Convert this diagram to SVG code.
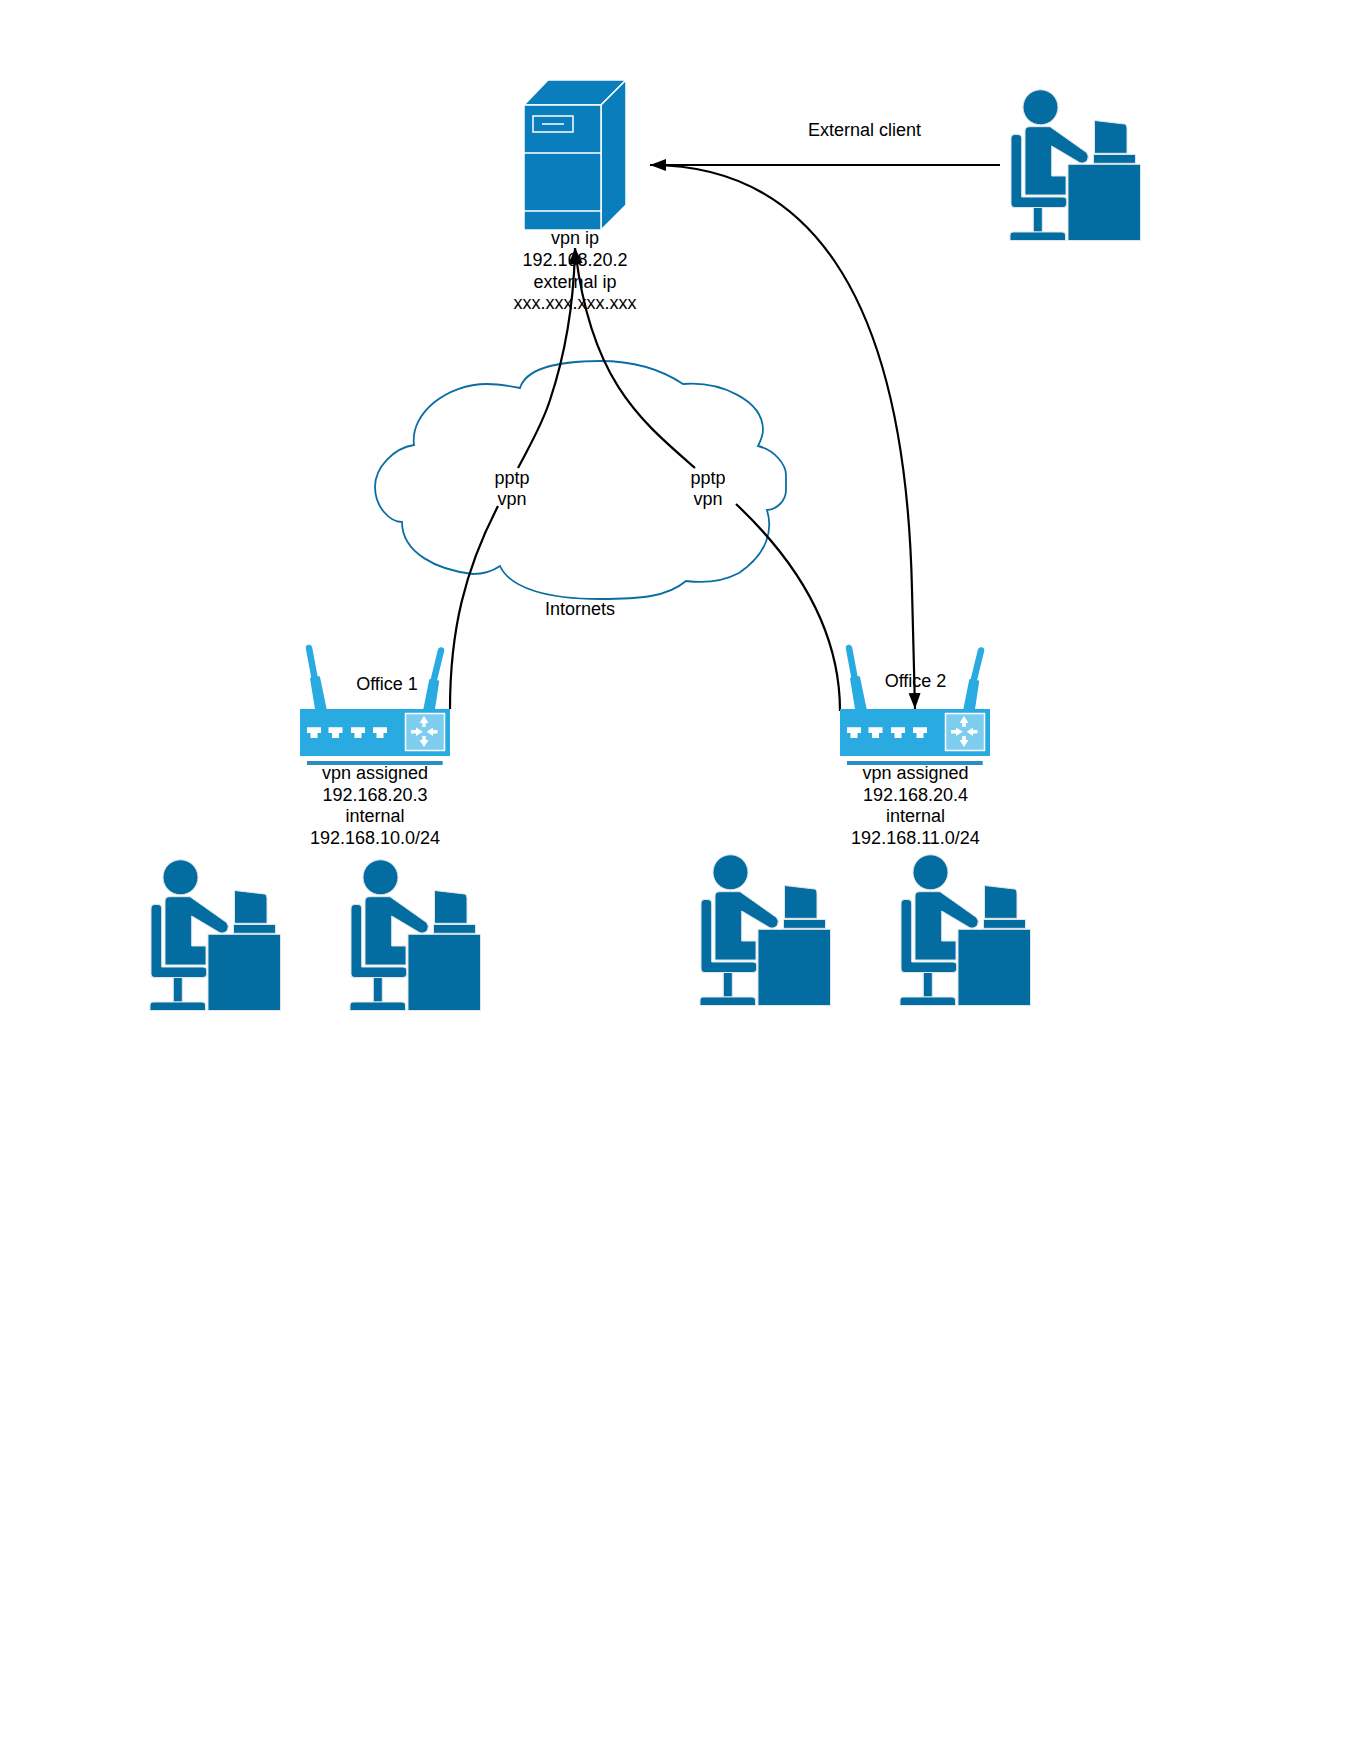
<svg xmlns="http://www.w3.org/2000/svg" width="1360" height="1760" viewBox="0 0 1360 1760">
<style>
text{font-family:"Liberation Sans",Arial,sans-serif;font-size:18px;fill:#000;text-anchor:middle}
.c{fill:none;stroke:#000;stroke-width:2.200}
.p{fill:#036ca1;stroke:#dfe6ea;stroke-width:1}
.r{fill:#29abe2}
.w{fill:#fff}
.s{fill:#0a7dbd;stroke:#fff;stroke-width:1.500}
</style>
<defs>
<marker id="a" markerUnits="userSpaceOnUse" markerWidth="18" markerHeight="14" refX="16" refY="7" orient="auto"><path d="M0,1 L16,7 L0,13 Z" fill="#000"/></marker>
<g id="person">
<circle class="p" cx="1040.500" cy="107.300" r="17.500"/>
<path class="p" d="M1025,131 Q1025,126.700 1030,126.700 H1050 L1086.500,152.500 Q1089.500,156 1087.500,160 Q1084.500,164.500 1079.500,162.500 L1051.700,146 V176 H1066 V195 H1025 Z"/>
<path class="p" d="M1011,138 Q1011,134.500 1014.500,134.500 H1018 Q1021.700,134.500 1021.700,138 V197 H1063 Q1066.700,197 1066.700,200 V204 Q1066.700,207.500 1063,207.500 H1014.500 Q1011,207.500 1011,204 Z"/>
<rect class="p" x="1033.300" y="207.500" width="9" height="24.500"/>
<path class="p" d="M1010,235 Q1010,232 1013,232 H1062 Q1065.500,232 1065.500,235 V240.500 H1010 Z"/>
<rect class="p" x="1068" y="164.300" width="72.500" height="76.200"/>
<rect class="p" x="1093.500" y="154.500" width="42" height="8.800"/>
<path class="p" d="M1094.500,120.500 L1124.500,124 Q1127,124.500 1127,128 V153.300 H1094.500 Z"/>
</g>
<g id="router">
<rect class="r" x="300" y="709" width="150" height="47"/>
<rect x="307" y="761" width="135.700" height="4" fill="#2a8fc0"/>
<path d="M309,648 L315,680" stroke="#29abe2" stroke-width="6.500" stroke-linecap="round" fill="none"/>
<path class="r" d="M310,678.300 Q311,676.500 315,676 Q320,676 320,677 L326.700,709.300 H315 Z"/>
<path d="M441,650.500 L433.300,682" stroke="#29abe2" stroke-width="6.500" stroke-linecap="round" fill="none"/>
<path class="r" d="M429.300,679.300 Q433,678.500 439.300,680.700 L435,709.300 H423.300 Z"/>
<path class="w" d="M307,727.300 H321 V733 H317.500 V738 H310.500 V733 H307 Z"/>
<path class="w" d="M328.500,727.300 H342.500 V733 H339 V738 H332 V733 H328.500 Z"/>
<path class="w" d="M351,727.300 H365 V733 H361.500 V738 H354.500 V733 H351 Z"/>
<path class="w" d="M373,727.300 H387 V733 H383.500 V738 H376.500 V733 H373 Z"/>
<rect x="405.500" y="713.500" width="39" height="37" fill="#7fcdee" stroke="#fff" stroke-width="1.500"/>
<path class="w" d="M424,716 L428.500,723 H425.800 V727 H422.200 V723 H419.500 Z"/>
<path class="w" d="M424,747 L428.500,740 H425.800 V736 H422.200 V740 H419.500 Z"/>
<path class="w" d="M422.700,731.700 L416,727.500 V730 H411 V733.400 H416 V736 Z"/>
<path class="w" d="M426.700,731.700 L433,727.500 V730 H437.500 V733.400 H433 V736 Z"/>
</g>
</defs>

<g id="internet-cloud">
<path d="M520,388 C527,365 570,361 600,361 C637,361 665,372 683,384 C720,381 763,400 763,430 C763,436 760,442 758,446 C775,450 786,465 786,475 V490 C786,502 775,510 767,510 C773,530 768,553 739,573 C722,582 702,583 686,581 C667,597 640,599 600,599 C547,599 510,588 500,566 C490,573 480,574 473,574 C437,570 402,553 402,522 C390,522 375,507 375,487 C375,467 394,448 414,445 C410,413 447,384 487,384 C500,384 520,388 520,388 Z" fill="none" stroke="#0a6ea3" stroke-width="1.800"/>
<text x="580" y="615">Intornets</text>
</g>

<g id="connectors">
<path class="c" d="M450,709 C450,630 465,570 498,506"/>
<path class="c" marker-end="url(#a)" d="M518,468 C530,445 542,425 550,400 C565,355 574,300 575,248"/>
<path class="c" d="M840,711 C840,625 790,555 736,504"/>
<path class="c" marker-end="url(#a)" d="M695,468 C640,420 590,380 575,248"/>
<path class="c" marker-end="url(#a)" d="M1000,165 H650"/>
<path class="c" marker-end="url(#a)" d="M650,165 C800,165 905,280 912,590 L915,709"/>
</g>

<g id="server">
<path class="s" d="M524,105 L548,80 H626 L601,105 Z"/>
<path class="s" d="M601,105 L626,80 V205 L601,230 Z"/>
<rect class="s" x="524" y="105" width="77" height="125"/>
<path d="M524,153 H601 M524,211 H601" stroke="#fff" stroke-width="1.500" fill="none"/>
<rect x="533" y="116" width="40" height="16" fill="none" stroke="#fff" stroke-width="1.500"/>
<path d="M542,124 H564" stroke="#fff" stroke-width="1.500"/>
<text x="575" y="244">vpn ip</text>
<text x="575" y="266">192.168.20.2</text>
<text x="575" y="288">external ip</text>
<text x="575" y="309">xxx.xxx.xxx.xxx</text>
</g>

<g id="external-client">
<use href="#person"/>
<text x="864.500" y="136">External client</text>
</g>

<g id="pptp-label-1"><text x="512" y="483.500">pptp</text><text x="512" y="505">vpn</text></g>
<g id="pptp-label-2"><text x="708" y="483.500">pptp</text><text x="708" y="505">vpn</text></g>

<g id="office-1">
<use href="#router"/>
<text x="387" y="690">Office 1</text>
<text x="375" y="779">vpn assigned</text>
<text x="375" y="801">192.168.20.3</text>
<text x="375" y="822">internal</text>
<text x="375" y="844">192.168.10.0/24</text>
</g>
<g id="office-2">
<use href="#router" transform="translate(540,0)"/>
<text x="915.500" y="687">Office 2</text>
<text x="915.500" y="779">vpn assigned</text>
<text x="915.500" y="801">192.168.20.4</text>
<text x="915.500" y="822">internal</text>
<text x="915.500" y="844">192.168.11.0/24</text>
</g>
<g id="user-1"><use href="#person" transform="translate(-860,770)"/></g>
<g id="user-2"><use href="#person" transform="translate(-660,770)"/></g>
<g id="user-3"><use href="#person" transform="translate(-310,765)"/></g>
<g id="user-4"><use href="#person" transform="translate(-110,765)"/></g>
</svg>
